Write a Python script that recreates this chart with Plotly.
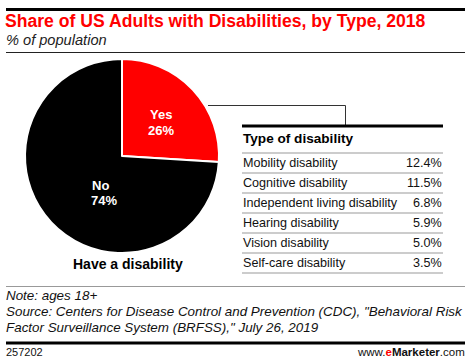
import plotly.graph_objects as go

pie_labels = ["Yes", "No"]
pie_values = [26, 74]
pie_colors = ["#ff0000", "#000000"]

table_types = ["Mobility disability", "Cognitive disability", "Independent living disability",
               "Hearing disability", "Vision disability", "Self-care disability"]
table_values = [12.4, 11.5, 6.8, 5.9, 5.0, 3.5]

title = "Share of US Adults with Disabilities, by Type, 2018"
subtitle = "% of population"
note = "Note: ages 18+"
source1 = "Source: Centers for Disease Control and Prevention (CDC), \"Behavioral Risk"
source2 = "Factor Surveillance System (BRFSS),\" July 26, 2019"
chart_id = "257202"

W, H = 470, 357
FONT = "Liberation Sans"

fig = go.Figure()

cx, cy, r = 122, 156, 97
fig.add_trace(go.Pie(
    labels=pie_labels, values=pie_values, sort=False, direction="clockwise", rotation=0,
    marker=dict(colors=pie_colors, line=dict(color="white", width=2)),
    textinfo="none", hoverinfo="skip", showlegend=False,
    domain=dict(x=[(cx - r) / W, (cx + r) / W], y=[(H - cy - r) / H, (H - cy + r) / H]),
))

shapes = []
ann = []

def px(x):
    return x / W

def py(y):
    return 1 - y / H

def line(x0, y0, x1, y1, w=1, c="#000"):
    shapes.append(dict(type="line", x0=px(x0), y0=py(y0), x1=px(x1), y1=py(y1),
                       xref="paper", yref="paper", line=dict(color=c, width=w)))

def bar(x0, y0, x1, y1, c="#000"):
    shapes.append(dict(type="rect", x0=px(x0), y0=py(y0), x1=px(x1), y1=py(y1),
                       xref="paper", yref="paper", fillcolor=c, line=dict(width=0)))

def text(x, y, s, size=12, color="#000", bold=False, italic=False, xanchor="left", yanchor="middle"):
    if bold:
        s = "<b>" + s + "</b>"
    if italic:
        s = "<i>" + s + "</i>"
    ann.append(dict(x=px(x), y=py(y), xref="paper", yref="paper", text=s, showarrow=False,
                    xanchor=xanchor, yanchor=yanchor,
                    font=dict(family=FONT, size=size, color=color)))

# header
bar(6, 8, 465, 11)
text(3, 21, title, size=17.6, color="#ff0000", bold=True)
text(4, 39.5, subtitle, size=14.6, italic=True, color="#222")
bar(6, 52, 465, 53, c="#222")

# pie labels
text(161, 115, pie_labels[0], size=13, color="white", bold=True, xanchor="center")
text(161, 130, f"{pie_values[0]}%", size=13, color="white", bold=True, xanchor="center")
text(100, 185, pie_labels[1], size=13, color="white", bold=True, xanchor="center")
text(104, 200, f"{pie_values[1]}%", size=13, color="white", bold=True, xanchor="center")
text(128, 264, "Have a disability", size=14, bold=True, xanchor="center")

# connector
line(208, 105.5, 345.5, 105.5, w=1, c="#333")
line(345.5, 105.5, 345.5, 125, w=1, c="#333")

# table
bar(242, 124.5, 443, 127.5)
text(241, 139, "Type of disability", size=13.6, bold=True)
row_y0 = 163
for i, (t, v) in enumerate(zip(table_types, table_values)):
    y = row_y0 + 20 * i
    line(242, y - 10, 443, y - 10, w=1, c="#999")
    text(241, y, t, size=12.6, color="#111")
    text(444, y, f"{v:.1f}%", size=12.6, color="#111", xanchor="right")
line(242, row_y0 + 20 * 5 + 10, 443, row_y0 + 20 * 5 + 10, w=1, c="#999")

# footer
line(6, 286.5, 465, 286.5, w=1, c="#999")
text(4, 295, note, size=13.4, italic=True, color="#111")
text(4, 311, source1, size=13.4, italic=True, color="#111")
text(4, 327, source2, size=13.4, italic=True, color="#111")
bar(6, 341.5, 465, 344.5)
text(4, 351.5, chart_id, size=11, color="#111")
text(467, 351.5, "www.<b><span style='color:#ff0000'>e</span>Marketer</b>.com", size=11.5,
     color="#111", xanchor="right")

fig.update_layout(
    width=W, height=H, margin=dict(l=0, r=0, t=0, b=0),
    paper_bgcolor="white", plot_bgcolor="white",
    shapes=shapes, annotations=ann,
)

fig.write_html("out.html", config={"displayModeBar": False},
               post_script="document.body.style.margin='0';document.body.style.overflow='hidden';")
